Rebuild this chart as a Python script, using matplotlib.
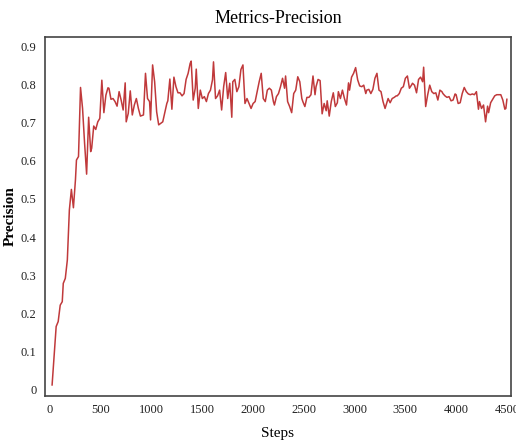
import matplotlib
matplotlib.use("Agg")
import matplotlib.pyplot as plt

steps = [20, 60, 80, 100, 120, 130, 150, 170, 190, 210, 230, 250, 260, 280, 300, 320, 340, 360, 380, 400,
         410, 430, 450, 470, 490, 510, 530, 550, 570, 580, 600, 620, 640, 660, 680, 700, 720, 740, 750, 770,
         790, 810, 830, 850, 870, 890, 920, 940, 960, 980, 990, 1010, 1030, 1050, 1070, 1090, 1110, 1150, 1160, 1180,
         1200, 1220, 1240, 1260, 1280, 1300, 1320, 1340, 1360, 1380, 1390, 1410, 1430, 1440, 1460, 1480, 1500, 1520, 1540, 1560,
         1580, 1600, 1610, 1630, 1650, 1670, 1690, 1710, 1730, 1750, 1770, 1790, 1800, 1820, 1840, 1860, 1880, 1900, 1920, 1940,
         1960, 1980, 2000, 2020, 2040, 2060, 2080, 2100, 2120, 2140, 2160, 2180, 2200, 2210, 2230, 2250, 2270, 2290, 2310, 2320,
         2340, 2360, 2380, 2400, 2420, 2440, 2460, 2480, 2490, 2510, 2530, 2550, 2570, 2590, 2610, 2620, 2640, 2660, 2680, 2700,
         2720, 2730, 2750, 2770, 2790, 2810, 2830, 2840, 2860, 2880, 2900, 2920, 2940, 2950, 2970, 2990, 3010, 3030, 3050, 3070,
         3090, 3110, 3120, 3140, 3160, 3180, 3200, 3220, 3240, 3260, 3280, 3300, 3320, 3330, 3350, 3370, 3390, 3410, 3420, 3440,
         3460, 3480, 3500, 3520, 3540, 3560, 3570, 3590, 3610, 3630, 3650, 3670, 3680, 3700, 3720, 3740, 3760, 3780, 3800, 3820,
         3840, 3860, 3870, 3890, 3910, 3930, 3950, 3970, 3990, 4000, 4020, 4040, 4060, 4080, 4100, 4120, 4140, 4160, 4180, 4200,
         4220, 4230, 4250, 4270, 4290, 4310, 4320, 4340, 4360, 4380, 4400, 4420, 4440, 4460, 4480, 4490, 4500]

precision = [0.013, 0.166, 0.179, 0.222, 0.231, 0.279, 0.292, 0.340, 0.471, 0.525, 0.477, 0.550, 0.602, 0.611, 0.792, 0.737, 0.646, 0.565, 0.714, 0.624,
             0.633, 0.691, 0.682, 0.702, 0.711, 0.811, 0.726, 0.772, 0.791, 0.790, 0.761, 0.763, 0.755, 0.743, 0.781, 0.759, 0.733, 0.804, 0.702, 0.724,
             0.783, 0.720, 0.746, 0.763, 0.737, 0.717, 0.720, 0.829, 0.763, 0.755, 0.707, 0.851, 0.807, 0.728, 0.694, 0.698, 0.702, 0.750, 0.757, 0.814,
             0.735, 0.819, 0.794, 0.778, 0.778, 0.770, 0.776, 0.813, 0.829, 0.855, 0.861, 0.759, 0.790, 0.840, 0.737, 0.785, 0.763, 0.768, 0.755, 0.776,
             0.785, 0.812, 0.859, 0.763, 0.770, 0.785, 0.733, 0.794, 0.831, 0.763, 0.803, 0.714, 0.807, 0.813, 0.781, 0.794, 0.839, 0.851, 0.750, 0.763,
             0.750, 0.737, 0.750, 0.755, 0.781, 0.807, 0.829, 0.763, 0.755, 0.785, 0.790, 0.785, 0.755, 0.746, 0.768, 0.776, 0.794, 0.816, 0.790, 0.822,
             0.755, 0.742, 0.726, 0.776, 0.785, 0.820, 0.807, 0.763, 0.755, 0.742, 0.766, 0.766, 0.773, 0.822, 0.773, 0.794, 0.813, 0.810, 0.723, 0.750,
             0.731, 0.757, 0.717, 0.755, 0.778, 0.742, 0.752, 0.781, 0.763, 0.785, 0.763, 0.746, 0.804, 0.785, 0.819, 0.829, 0.844, 0.812, 0.796, 0.794,
             0.798, 0.776, 0.785, 0.787, 0.776, 0.787, 0.816, 0.829, 0.785, 0.781, 0.755, 0.737, 0.755, 0.763, 0.752, 0.763, 0.766, 0.770, 0.770, 0.776,
             0.790, 0.794, 0.816, 0.822, 0.790, 0.798, 0.803, 0.798, 0.778, 0.813, 0.819, 0.807, 0.845, 0.742, 0.773, 0.798, 0.781, 0.776, 0.778, 0.759,
             0.785, 0.781, 0.776, 0.770, 0.766, 0.768, 0.757, 0.759, 0.775, 0.773, 0.750, 0.752, 0.776, 0.792, 0.781, 0.775, 0.773, 0.775, 0.773, 0.781,
             0.735, 0.755, 0.737, 0.746, 0.702, 0.743, 0.726, 0.752, 0.761, 0.770, 0.773, 0.773, 0.773, 0.759, 0.735, 0.737, 0.761]

x_ticks = [0, 500, 1000, 1500, 2000, 2500, 3000, 3500, 4000, 4500]
y_ticks = [0, 0.1, 0.2, 0.3, 0.4, 0.5, 0.6, 0.7, 0.8, 0.9]
y_tick_labels = ["0", "0.1", "0.2", "0.3", "0.4", "0.5", "0.6", "0.7", "0.8", "0.9"]

plt.rcParams['font.family'] = ['Liberation Serif', 'DejaVu Serif']

fig = plt.figure(figsize=(5.16, 4.41), dpi=100)
ax = fig.add_axes([0.0872, 0.102, 0.903, 0.814])
ax.plot(steps, precision, color='#c0393b', linewidth=1.1)
ax.set_xlim(-50, 4540)
ax.set_ylim(-0.016, 0.924)
ax.set_xticks(x_ticks)
ax.set_yticks(y_ticks)
ax.set_yticklabels(y_tick_labels)
ax.tick_params(axis='both', length=0, labelsize=9, colors='#222222')
ax.tick_params(axis='x', pad=6)
ax.tick_params(axis='y', pad=6)
for s in ax.spines.values():
    s.set_color('#444444')
    s.set_linewidth(1.2)
ax.set_title('Metrics-Precision', fontsize=13, pad=10)
ax.set_xlabel('Steps', fontsize=11, labelpad=8)
ax.set_ylabel('Precision', fontsize=11, fontweight='bold')
ax.yaxis.set_label_coords(-0.060, 0.5)
fig.savefig('out.png', dpi=100)
